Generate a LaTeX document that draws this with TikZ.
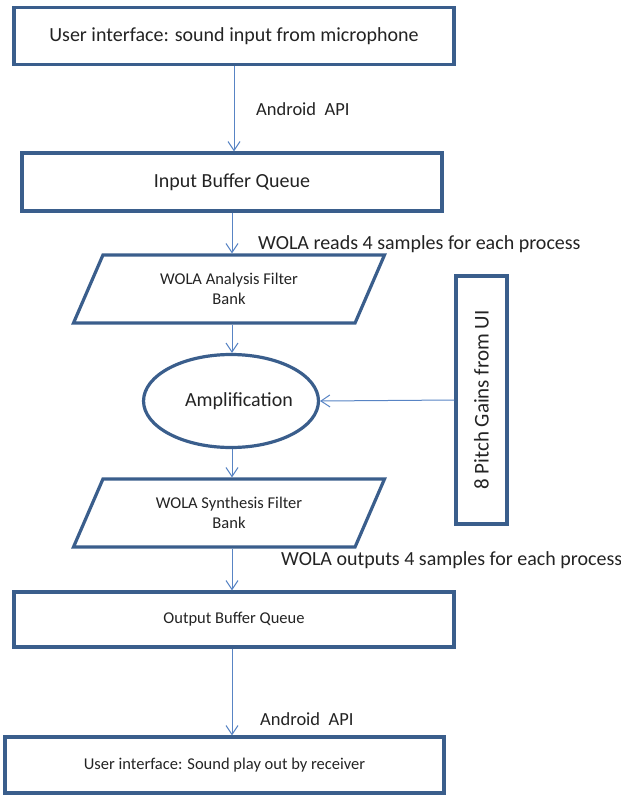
\documentclass[tikz,border=0pt]{standalone}
\usepackage{fontspec}
\setmainfont{Carlito}
\usetikzlibrary{shapes.geometric,arrows.meta,positioning}
\definecolor{boxblue}{RGB}{58,94,140}
\definecolor{arrblue}{RGB}{88,132,196}
\definecolor{txtgray}{RGB}{35,35,35}

\begin{document}
\begin{tikzpicture}[
    x=1pt, y=-1pt,
    block/.style={draw=boxblue, line width=3.2pt, minimum width=440pt, minimum height=57pt, align=center, inner sep=0pt, text=txtgray, font=\fontsize{20}{24}\selectfont},
    smallblock/.style={block, font=\fontsize{16.5}{20}\selectfont},
    filterbank/.style={draw=boxblue, line width=3.2pt, trapezium, trapezium left angle=47, trapezium right angle=133, trapezium stretches body, minimum width=311pt, minimum height=68pt, align=center, inner sep=0pt, text=txtgray, font=\fontsize{16.5}{20}\selectfont},
    arr/.style={-{Straight Barb[length=9pt, width=12pt]}, draw=arrblue, line width=1pt},
    lbl/.style={anchor=west, inner sep=0pt, text=txtgray, font=\fontsize{20}{24}\selectfont},
]
\useasboundingbox (0,0) rectangle (621,795);

\node[block] (uiin) at (234,36) {User interface: sound input from microphone};
\node[block, minimum width=420pt, minimum height=58pt] (inbuf) at (232,182) {Input Buffer Queue};
\node[filterbank] (ana) at (229,289) {WOLA Analysis Filter\\Bank};
\node[draw=boxblue, line width=3.2pt, ellipse, minimum width=168pt, minimum height=93pt, inner sep=0pt, text=txtgray, font=\fontsize{20}{24}\selectfont] (amp) at (231,401) {\hspace*{16pt}Amplification};
\node[filterbank] (syn) at (229,513) {WOLA Synthesis Filter\\Bank};
\node[smallblock, minimum height=55pt] (outbuf) at (234,619.5) {Output Buffer Queue};
\node[smallblock, minimum width=439pt, minimum height=56pt] (play) at (224.5,765) {User interface: Sound play out by receiver};
\node[block, rotate=90, minimum width=248pt, minimum height=51pt, font=\fontsize{21}{25}\selectfont] (gains) at (481.5,400) {8 Pitch Gains from UI};

\draw[arr] (uiin.south) -- (uiin.south |- inbuf.north);
\draw[arr] (inbuf.south) -- (inbuf.south |- ana.north);
\draw[arr] (inbuf.south |- ana.south) -- (inbuf.south |- amp.north);
\draw[arr] (inbuf.south |- amp.south) -- (inbuf.south |- syn.north);
\draw[arr] (inbuf.south |- syn.south) -- (inbuf.south |- outbuf.north);
\draw[arr] (inbuf.south |- outbuf.south) -- (inbuf.south |- play.north);
\draw[arr] (gains.north) -- (amp.east);

\node[lbl, font=\fontsize{18.5}{22}\selectfont] (api1) at (256,109) {Android\ \ API};
\node[lbl] (reads) at (258,244) {WOLA reads 4 samples for each process};
\node[lbl] (outs) at (281,560) {WOLA outputs 4 samples for each process};
\node[lbl, font=\fontsize{18.5}{22}\selectfont] (api2) at (260,719) {Android\ \ API};
\end{tikzpicture}
\end{document}
